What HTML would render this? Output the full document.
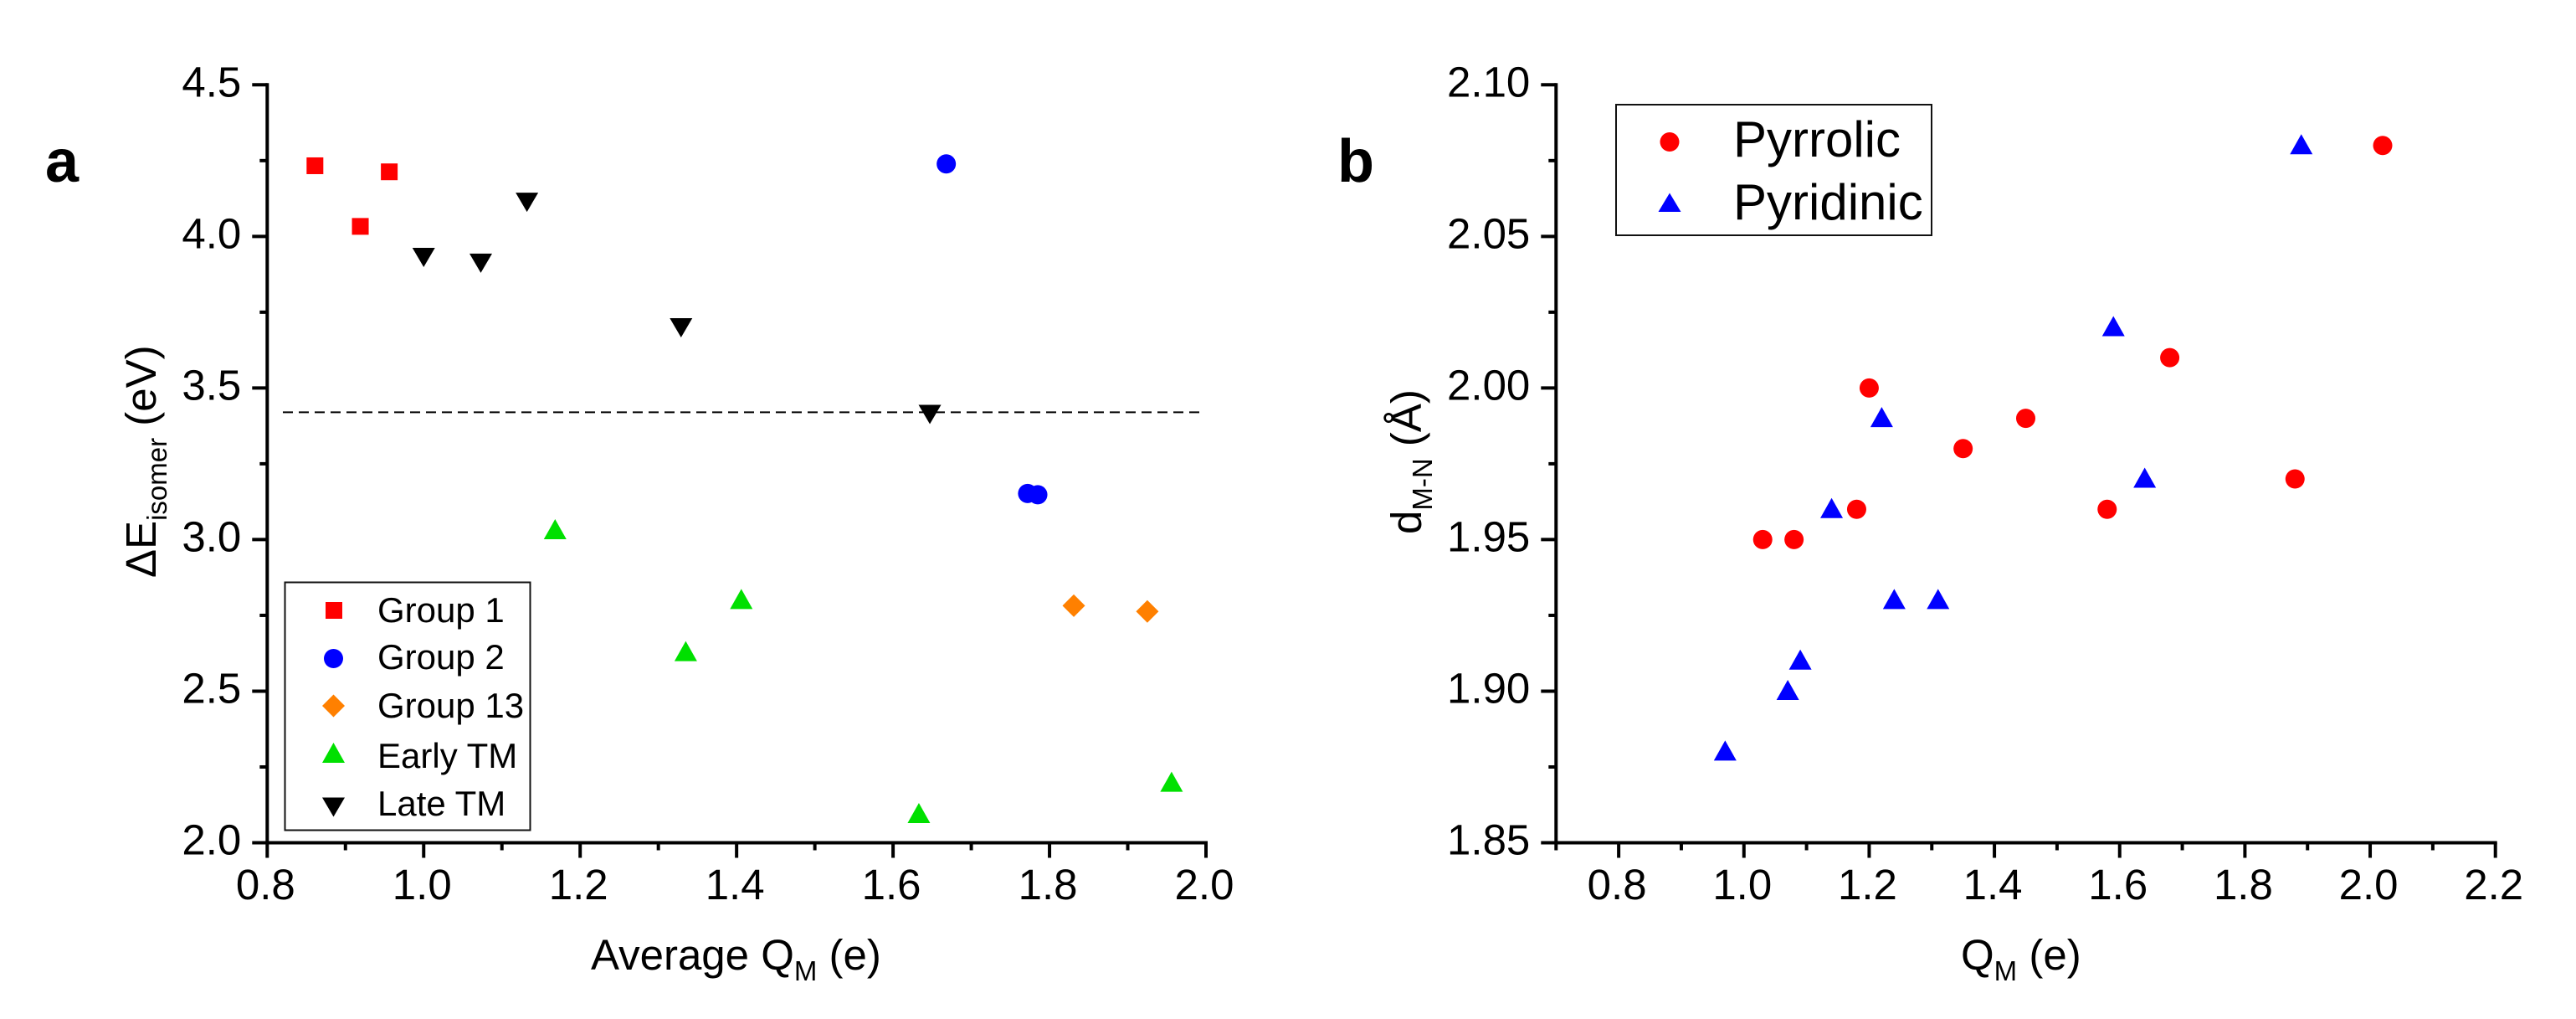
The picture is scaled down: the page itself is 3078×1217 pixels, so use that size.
<!DOCTYPE html>
<html lang="en">
<head>
<meta charset="utf-8">
<title>Isomer energy and bond length versus charge</title>
<style>
html,body{margin:0;padding:0;background:#fff;}
svg{display:block;font-family:"Liberation Sans",sans-serif;}
</style>
</head>
<body>
<svg id="figure" xmlns="http://www.w3.org/2000/svg" width="3078" height="1217" viewBox="0 0 3078 1217">
<rect width="3078" height="1217" fill="#fff"/>
<text x="54" y="217" font-size="72" font-weight="bold">a</text>
<text x="1598" y="217" font-size="72" font-weight="bold">b</text>

<g id="panelA"></g>
<g id="panelB"></g>

<text x="706" y="1158" font-size="51">Average Q<tspan dy="13" font-size="33">M</tspan><tspan dy="-13"> (e)</tspan></text>
<text transform="translate(186,690) rotate(-90)" font-size="51">ΔE<tspan dy="13" font-size="33">isomer</tspan><tspan dy="-13"> (eV)</tspan></text>
<text x="2343" y="1158" font-size="51">Q<tspan dy="13" font-size="33">M</tspan><tspan dy="-13"> (e)</tspan></text>
<text transform="translate(1698,638) rotate(-90)" font-size="51">d<tspan dy="13" font-size="33">M-N</tspan><tspan dy="-13"> (Å)</tspan></text>

<g>
  <rect x="340.5" y="695.5" width="293" height="296" fill="#fff" stroke="#111" stroke-width="2"/>
  <g>
    <rect x="389" y="719" width="20" height="20" fill="#ff0000"/>
    <text x="451" y="743" font-size="42">Group 1</text>
  </g>
  <g>
    <circle cx="398.500" cy="786.500" r="11.500" fill="#0000ff"/>
    <text x="451" y="799" font-size="42">Group 2</text>
  </g>
  <g>
    <polygon points="398.500,829.500 412,843 398.500,856.500 385,843" fill="#ff8000"/>
    <text x="451" y="857" font-size="42">Group 13</text>
  </g>
  <g>
    <polygon points="398.500,887 412,911 385,911" fill="#00e000"/>
    <text x="451" y="917" font-size="42">Early TM</text>
  </g>
  <g>
    <polygon points="385,952.500 412,952.500 398.500,975.500" fill="#000"/>
    <text x="451" y="974" font-size="42">Late TM</text>
  </g>
</g>

<g>
  <rect x="1931" y="125" width="377" height="156" fill="#fff" stroke="#111" stroke-width="2"/>
  <g>
    <circle cx="1995" cy="169.500" r="11.500" fill="#ff0000"/>
    <text x="2071" y="187" font-size="60">Pyrrolic</text>
  </g>
  <g>
    <polygon points="1995,230.500 2008.500,253 1981.500,253" fill="#0000ff"/>
    <text x="2071" y="262" font-size="60">Pyridinic</text>
  </g>
</g>
</svg>

<script>
// Panel a data
const aXMajorTicks = ["0.8", "1.0", "1.2", "1.4", "1.6", "1.8", "2.0"];
const aXMinorTicks = [0.9, 1.1, 1.3, 1.5, 1.7, 1.9];
const aYMajorTicks = ["2.0", "2.5", "3.0", "3.5", "4.0", "4.5"];
const aYMinorTicks = [2.25, 2.75, 3.25, 3.75, 4.25];
const aReferenceLevel = 3.42;
const aReferenceQRange = [0.82, 1.995];
const group1Q = [0.861, 0.956, 0.919];
const group1E = [4.233, 4.213, 4.033];
const group2Q = [1.668, 1.772, 1.785];
const group2E = [4.239, 3.152, 3.148];
const group13Q = [1.831, 1.925];
const group13E = [2.782, 2.763];
const earlyTmQ = [1.168, 1.335, 1.406, 1.633, 1.956];
const earlyTmE = [3.03, 2.628, 2.80, 2.094, 2.197];
const lateTmQ = [1.132, 1.000, 1.073, 1.329, 1.647];
const lateTmE = [4.114, 3.932, 3.913, 3.70, 3.414];

// Panel b data
const bXMajorTicks = ["0.8", "1.0", "1.2", "1.4", "1.6", "1.8", "2.0", "2.2"];
const bXMinorTicks = [0.7, 0.9, 1.1, 1.3, 1.5, 1.7, 1.9, 2.1];
const bYMajorTicks = ["1.85", "1.90", "1.95", "2.00", "2.05", "2.10"];
const bYMinorTicks = [1.875, 1.925, 1.975, 2.025, 2.075];
const pyrrolicQ = [1.03, 1.08, 1.18, 1.20, 1.35, 1.45, 1.58, 1.68, 1.88, 2.02];
const pyrrolicD = [1.95, 1.95, 1.96, 2.00, 1.98, 1.99, 1.96, 2.01, 1.97, 2.08];
const pyridinicQ = [0.97, 1.07, 1.09, 1.14, 1.22, 1.24, 1.31, 1.59, 1.64, 1.89];
const pyridinicD = [1.88, 1.90, 1.91, 1.96, 1.99, 1.93, 1.93, 2.02, 1.97, 2.08];

const NS = "http://www.w3.org/2000/svg";

function scale(d0, d1, r0, r1) {
  return function (v) { return r0 + (v - d0) * (r1 - r0) / (d1 - d0); };
}
const aX = scale(0.8, 2.0, 319.3, 1441);
const aY = scale(2.0, 4.5, 1006.5, 101.3);
const bX = scale(0.7, 2.2, 1859.3, 2981.7);
const bY = scale(1.85, 2.10, 1006.5, 101.3);

function addLine(parent, name, x1, y1, x2, y2, width) {
  const el = document.createElementNS(NS, "line");
  
  
  el.setAttribute("x1", x1);
  el.setAttribute("y1", y1);
  el.setAttribute("x2", x2);
  el.setAttribute("y2", y2);
  el.setAttribute("stroke", "#000");
  el.setAttribute("stroke-width", width);
  parent.appendChild(el);
  return el;
}

function addLabel(parent, name, x, y, anchor, str) {
  const el = document.createElementNS(NS, "text");
  
  
  el.setAttribute("x", x);
  el.setAttribute("y", y);
  el.setAttribute("text-anchor", anchor);
  el.setAttribute("font-size", "51");
  el.textContent = str;
  parent.appendChild(el);
}

function drawAxes(parent, x, y, xMajor, xMinor, yMajor, yMinor, xDomain, yDomain) {
  const left = x(xDomain[0]), right = x(xDomain[1]);
  const bottom = y(yDomain[0]), top = y(yDomain[1]);
  addLine(parent, "y-axis-line", left, top - 2, left, bottom + 2, 4);
  addLine(parent, "x-axis-line", left - 2, bottom, right + 2, bottom, 4);
  xMajor.forEach(function (t) {
    const px = x(parseFloat(t));
    addLine(parent, "x-major-tick", px, bottom, px, bottom + 18, 4);
    addLabel(parent, "x-tick-label", px - 2, 1074, "middle", t);
  });
  xMinor.forEach(function (v) {
    const px = x(v);
    addLine(parent, "x-minor-tick", px, bottom, px, bottom + 9, 4);
  });
  yMajor.forEach(function (t) {
    const py = y(parseFloat(t));
    addLine(parent, "y-major-tick", left - 18, py, left, py, 4);
    addLabel(parent, "y-tick-label", left - 31, py + 14, "end", t);
  });
  yMinor.forEach(function (v) {
    const py = y(v);
    addLine(parent, "y-minor-tick", left - 9, py, left, py, 4);
  });
}

function addPoint(parent, name, kind, color, cx, cy) {
  let el;
  if (kind === "circle") {
    el = document.createElementNS(NS, "circle");
    el.setAttribute("cx", cx);
    el.setAttribute("cy", cy);
    el.setAttribute("r", 11.5);
  } else if (kind === "square") {
    el = document.createElementNS(NS, "rect");
    el.setAttribute("x", cx - 10);
    el.setAttribute("y", cy - 10);
    el.setAttribute("width", 20);
    el.setAttribute("height", 20);
  } else {
    el = document.createElementNS(NS, "polygon");
    let pts;
    if (kind === "diamond") {
      pts = [[cx, cy - 13.5], [cx + 13.5, cy], [cx, cy + 13.5], [cx - 13.5, cy]];
    } else if (kind === "up") {
      pts = [[cx, cy - 13.5], [cx + 13.5, cy + 10.5], [cx - 13.5, cy + 10.5]];
    } else {
      pts = [[cx - 13.5, cy - 11], [cx + 13.5, cy - 11], [cx, cy + 12]];
    }
    el.setAttribute("points", pts.map(function (p) { return p.join(","); }).join(" "));
  }
  
  
  el.setAttribute("fill", color);
  parent.appendChild(el);
}

function drawSeries(parent, name, kind, color, xs, ys, x, y) {
  const group = document.createElementNS(NS, "g");
  
  
  xs.forEach(function (v, i) {
    addPoint(group, name + '-point', kind, color, x(v), y(ys[i]));
  });
  parent.appendChild(group);
}

const panelA = document.getElementById("panelA");
const panelB = document.getElementById("panelB");

drawAxes(panelA, aX, aY, aXMajorTicks, aXMinorTicks, aYMajorTicks, aYMinorTicks, [0.8, 2.0], [2.0, 4.5]);
const refLine = addLine(panelA, "reference-dashed-line", aX(aReferenceQRange[0]), aY(aReferenceLevel), aX(aReferenceQRange[1]), aY(aReferenceLevel), 2);
refLine.setAttribute("stroke-dasharray", "12 7");
drawSeries(panelA, "group-1", "square", "#ff0000", group1Q, group1E, aX, aY);
drawSeries(panelA, "group-2", "circle", "#0000ff", group2Q, group2E, aX, aY);
drawSeries(panelA, "group-13", "diamond", "#ff8000", group13Q, group13E, aX, aY);
drawSeries(panelA, "early-tm", "up", "#00e000", earlyTmQ, earlyTmE, aX, aY);
drawSeries(panelA, "late-tm", "down", "#000000", lateTmQ, lateTmE, aX, aY);

drawAxes(panelB, bX, bY, bXMajorTicks, bXMinorTicks, bYMajorTicks, bYMinorTicks, [0.7, 2.2], [1.85, 2.10]);
drawSeries(panelB, "pyrrolic", "circle", "#ff0000", pyrrolicQ, pyrrolicD, bX, bY);
drawSeries(panelB, "pyridinic", "up", "#0000ff", pyridinicQ, pyridinicD, bX, bY);
</script>
</body>
</html>
